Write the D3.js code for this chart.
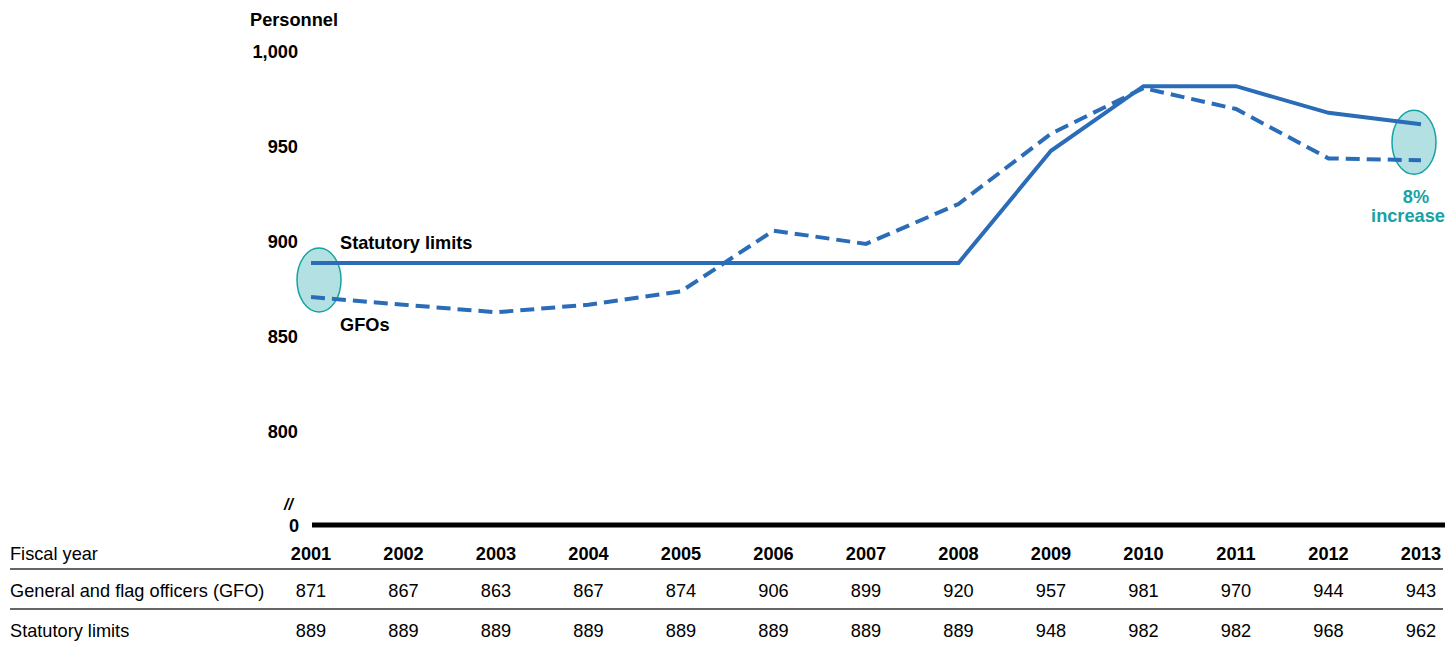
<!DOCTYPE html>
<html><head><meta charset="utf-8">
<script src="https://cdn.jsdelivr.net/npm/d3@7"></script>
<style>body{margin:0;background:#fff}svg{font-family:"Liberation Sans",Arial,sans-serif}</style>
</head><body><svg id="c" width="1445" height="647"></svg>
<script>
const years = [2001,2002,2003,2004,2005,2006,2007,2008,2009,2010,2011,2012,2013];
const gfo = [871,867,863,867,874,906,899,920,957,981,970,944,943];
const statutory = [889,889,889,889,889,889,889,889,948,982,982,968,962];
const yTicks = [800,850,900,950,1000];
const rowLabels = ["Fiscal year","General and flag officers (GFO)","Statutory limits"];

const svg = d3.select("#c");
const blue = "#2b6cb8", teal = "#17a2a3";
const fs = 18.2;
const x = d3.scalePoint().domain(years).range([311, 1421]);
const y = d3.scaleLinear().domain([800, 1000]).range([432, 52]);

svg.append("text").attr("x",250).attr("y",26).attr("font-size",fs).attr("font-weight","bold").text("Personnel");
const yAxis = d3.axisLeft(y).tickValues(yTicks).tickSize(0).tickPadding(0).tickFormat(d3.format(","));
const ga = svg.append("g").attr("transform","translate(298,0)").call(yAxis);
ga.select(".domain").remove();
ga.selectAll("text").attr("font-size",fs).attr("font-weight","bold").attr("fill","#000").attr("font-family","Liberation Sans, Arial, sans-serif");

svg.append("text").attr("x",299).attr("y",532).attr("text-anchor","end").attr("font-size",fs).attr("font-weight","bold").text("0");
svg.append("text").attr("x",284).attr("y",510).attr("font-size",16).attr("font-weight","bold").attr("font-style","italic").text("//");
svg.append("line").attr("x1",312).attr("x2",1445).attr("y1",525).attr("y2",525).attr("stroke","#000").attr("stroke-width",5);

[[0,880,8],[12,952.5,-7]].forEach(([i,v,dx])=>{
  svg.append("ellipse").attr("cx",x(years[i])+dx).attr("cy",y(v)).attr("rx",22).attr("ry",32)
    .attr("fill","#b2e0e3").attr("stroke",teal).attr("stroke-width",1.5);
});

const line = arr => d3.line().x((d,i)=>x(years[i])).y(d=>y(d))(arr);
svg.append("path").attr("d",line(statutory)).attr("fill","none").attr("stroke",blue).attr("stroke-width",4);
svg.append("path").attr("d",line(gfo)).attr("fill","none").attr("stroke",blue).attr("stroke-width",4).attr("stroke-dasharray","14,7");

svg.append("text").attr("x",340).attr("y",249).attr("font-size",fs).attr("font-weight","bold").text("Statutory limits");
svg.append("text").attr("x",340).attr("y",331).attr("font-size",fs).attr("font-weight","bold").text("GFOs");
svg.append("text").attr("x",1416).attr("y",203).attr("text-anchor","middle").attr("font-size",fs).attr("font-weight","bold").attr("fill",teal).text("8%");
svg.append("text").attr("x",1408).attr("y",222).attr("text-anchor","middle").attr("font-size",fs).attr("font-weight","bold").attr("fill",teal).text("increase");

const rowsY = [560, 597, 637];
rowLabels.forEach((t,r)=>svg.append("text").attr("x",10).attr("y",rowsY[r]).attr("font-size",fs).text(t));
const rows = [years.map(String), gfo.map(String), statutory.map(String)];
rows.forEach((vals,r)=>{
  svg.selectAll(null).data(vals).enter().append("text")
    .attr("x",(d,i)=>x(years[i])).attr("y",rowsY[r]).attr("text-anchor","middle")
    .attr("font-size",fs).attr("font-weight",r===0?"bold":"normal").text(d=>d);
});
[569,609].forEach(yy=>svg.append("line").attr("x1",10).attr("x2",1443).attr("y1",yy).attr("y2",yy).attr("stroke","#333").attr("stroke-width",1.5));
</script></body></html>
